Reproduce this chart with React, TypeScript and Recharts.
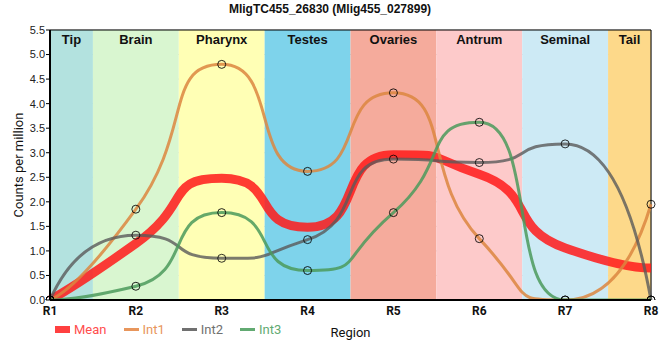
import {
  ComposedChart,
  Line,
  XAxis,
  YAxis,
  CartesianGrid,
  ReferenceArea,
} from 'recharts'

// Regions along the body axis (x = 1..8)
const positions = [1, 2, 3, 4, 5, 6, 7, 8]
const tickLabels = ['R1', 'R2', 'R3', 'R4', 'R5', 'R6', 'R7', 'R8']

// Tissue bands
const tissues = ['Tip', 'Brain', 'Pharynx', 'Testes', 'Ovaries', 'Antrum', 'Seminal', 'Tail']
const tissueStart = [1, 1.5, 2.5, 3.5, 4.5, 5.5, 6.5, 7.5]
const tissueEnd = [1.5, 2.5, 3.5, 4.5, 5.5, 6.5, 7.5, 8]

// Series values (counts per million)
const mean = [0, 1.15, 2.48, 1.48, 2.96, 2.56, 1.06, 0.65]
const int1 = [0, 1.85, 4.8, 2.62, 4.22, 1.25, 0, 1.95]
const int2 = [0, 1.32, 0.85, 1.23, 2.87, 2.8, 3.18, 0]
const int3 = [0, 0.28, 1.78, 0.6, 1.78, 3.62, 0, 0]

const yTicks = [0, 0.5, 1, 1.5, 2, 2.5, 3, 3.5, 4, 4.5, 5, 5.5]

const BAND_COLORS = ['#b3e2df', '#d9f6d0', '#ffffb5', '#7ed3eb', '#f5ab9c', '#fdcaca', '#cdeaf5', '#fdd98a']

const C_MEAN = '#ff1a1a'
const C_INT1 = '#dc8640'
const C_INT2 = '#5a5a5a'
const C_INT3 = '#4b9a5c'

const data = positions.map((x, i) => ({
  x,
  Mean: mean[i],
  Int1: int1[i],
  Int2: int2[i],
  Int3: int3[i],
}))

// spline with long control handles, flattened at local extremes
const SMOOTHING = 0.5

function splineCurve(context: any) {
  let pts: number[][] = []
  return {
    areaStart() {},
    areaEnd() {},
    lineStart() {
      pts = []
    },
    point(x: number, y: number) {
      pts.push([+x, +y])
    },
    lineEnd() {
      const n = pts.length
      if (!n) return
      context.moveTo(pts[0][0], pts[0][1])
      if (n < 3) {
        for (let i = 1; i < n; i++) context.lineTo(pts[i][0], pts[i][1])
        return
      }
      const den = SMOOTHING + 1
      const left: number[][] = []
      const right: number[][] = []
      for (let i = 1; i < n - 1; i++) {
        const [px, py] = pts[i]
        const [lx, ly] = pts[i - 1]
        const [nx, ny] = pts[i + 1]
        const lcx = (SMOOTHING * px + lx) / den
        let lcy = (SMOOTHING * py + ly) / den
        const rcx = (SMOOTHING * px + nx) / den
        let rcy = (SMOOTHING * py + ny) / den
        let corr = 0
        if (rcx !== lcx) corr = ((rcy - lcy) * (rcx - px)) / (rcx - lcx) + py - rcy
        lcy += corr
        rcy += corr
        if (lcy > ly && lcy > py) {
          lcy = Math.max(ly, py)
          rcy = 2 * py - lcy
        } else if (lcy < ly && lcy < py) {
          lcy = Math.min(ly, py)
          rcy = 2 * py - lcy
        }
        if (rcy > ny && rcy > py) {
          rcy = Math.max(ny, py)
          lcy = 2 * py - rcy
        } else if (rcy < ny && rcy < py) {
          rcy = Math.min(ny, py)
          lcy = 2 * py - rcy
        }
        left[i] = [lcx, lcy]
        right[i] = [rcx, rcy]
      }
      context.quadraticCurveTo(left[1][0], left[1][1], pts[1][0], pts[1][1])
      for (let i = 2; i < n - 1; i++) {
        context.bezierCurveTo(right[i - 1][0], right[i - 1][1], left[i][0], left[i][1], pts[i][0], pts[i][1])
      }
      const r = right[n - 2]
      context.quadraticCurveTo(r[0], r[1], pts[n - 1][0], pts[n - 1][1])
    },
  }
}

const dotStyle = { r: 4, stroke: '#000', strokeWidth: 1, fill: 'none' }

const legendItems = [
  { name: 'Mean', color: '#ff4040', text: '#ff4d4d', h: 7 },
  { name: 'Int1', color: '#e8965c', text: '#e8965c', h: 3 },
  { name: 'Int2', color: '#707070', text: '#707070', h: 3 },
  { name: 'Int3', color: '#62aa72', text: '#62aa72', h: 3 },
]

const FONT = '"Liberation Sans", Arial, sans-serif'

export default function App() {
  return (
    <div style={{ position: 'absolute', left: 0, top: 0, width: 660, height: 360, background: '#fff', fontFamily: FONT }}>
      <div
        style={{
          position: 'absolute', left: 0, top: 2, width: 660, textAlign: 'center',
          fontWeight: 'bold', fontSize: 12, color: '#111',
        }}
      >
        MligTC455_26830 (Mlig455_027899)
      </div>

      <ComposedChart
        width={660}
        height={360}
        data={data}
        margin={{ top: 30, right: 9, left: 10, bottom: 20 }}
      >
        {tissues.map((t, i) => (
          <ReferenceArea
            key={t}
            x1={tissueStart[i]}
            x2={tissueEnd[i]}
            y1={0}
            y2={5.5}
            fill={BAND_COLORS[i]}
            fillOpacity={1}
            stroke="none"
            label={{
              value: t,
              position: 'insideTop',
              offset: 5,
              fill: '#111',
              fontSize: 13,
              fontWeight: 'bold',
              fontFamily: FONT,
            }}
          />
        ))}

        <CartesianGrid stroke="#c8c8c8" strokeWidth={1} />

        <XAxis
          type="number"
          dataKey="x"
          domain={[1, 8]}
          ticks={positions}
          tickFormatter={(v: number) => tickLabels[v - 1]}
          tick={{ fontSize: 12, fill: '#111', fontWeight: 'bold', fontFamily: 'Roboto' }}
          tickLine={false}
          tickSize={4}
          axisLine={{ stroke: '#000', strokeWidth: 2 }}
          height={40}
          label={{
            value: 'Region',
            position: 'insideBottom',
            offset: 3,
            fill: '#111',
            fontSize: 13,
            fontFamily: 'Roboto',
          }}
        />

        <YAxis
          type="number"
          domain={[0, 5.5]}
          ticks={yTicks}
          tickFormatter={(v: number) => v.toFixed(1)}
          tick={{ fontSize: 11, fill: '#222', fontFamily: FONT }}
          tickLine={{ stroke: '#000' }}
          tickSize={4}
          tickMargin={1}
          axisLine={{ stroke: '#000', strokeWidth: 2 }}
          width={40}
          allowDataOverflow
          label={{
            content: () => (
              <text
                x={18}
                y={165}
                transform="rotate(-90 18 165)"
                textAnchor="middle"
                dominantBaseline="central"
                fontSize={13}
                fontFamily="Roboto"
                fill="#111"
              >
                Counts per million
              </text>
            ),
          }}
        />

        {/* plot border */}
        <ReferenceArea x1={1} x2={8} y1={0} y2={5.5} fill="none" stroke="#000" strokeWidth={1} />

        <Line type={splineCurve as any} dataKey="Mean" stroke={C_MEAN} strokeOpacity={0.85} strokeWidth={9} dot={false} isAnimationActive={false} />
        <Line type={splineCurve as any} dataKey="Int1" stroke={C_INT1} strokeOpacity={0.85} strokeWidth={3} dot={dotStyle} isAnimationActive={false} />
        <Line type={splineCurve as any} dataKey="Int2" stroke={C_INT2} strokeOpacity={0.8} strokeWidth={3} dot={dotStyle} isAnimationActive={false} />
        <Line type={splineCurve as any} dataKey="Int3" stroke={C_INT3} strokeOpacity={0.85} strokeWidth={3} dot={dotStyle} isAnimationActive={false} />
      </ComposedChart>

      {/* Legend */}
      <div
        style={{
          position: 'absolute', left: 55, top: 322, display: 'flex', alignItems: 'center',
          fontFamily: 'Roboto', fontSize: 13,
        }}
      >
        {legendItems.map((it) => (
          <div key={it.name} style={{ display: 'flex', alignItems: 'center', marginRight: 17 }}>
            <span style={{ display: 'inline-block', width: 15, height: it.h, background: it.color, marginRight: 4 }} />
            <span style={{ color: it.text }}>{it.name}</span>
          </div>
        ))}
      </div>
    </div>
  )
}
